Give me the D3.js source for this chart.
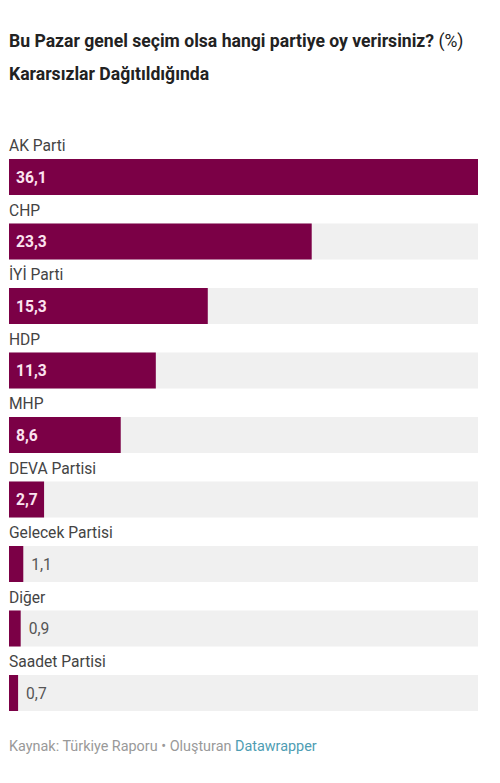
<!DOCTYPE html>
<html><head><meta charset="utf-8">
<script src="https://cdn.jsdelivr.net/npm/d3@7"></script>
<style>
html,body{margin:0;padding:0;background:#fff;}
svg{display:block;font-family:Roboto,"Noto Sans",sans-serif;}
</style></head>
<body>
<svg id="chart" width="500" height="783"></svg>
<script>
const categories = ["AK Parti","CHP","İYİ Parti","HDP","MHP","DEVA Partisi","Gelecek Partisi","Diğer","Saadet Partisi"];
const values = [36.1, 23.3, 15.3, 11.3, 8.6, 2.7, 1.1, 0.9, 0.7];
const valueLabels = ["36,1","23,3","15,3","11,3","8,6","2,7","1,1","0,9","0,7"];
const title = "Bu Pazar genel seçim olsa hangi partiye oy verirsiniz? ";
const titleUnit = "(%)";
const subtitle = "Kararsızlar Dağıtıldığında";

const svg = d3.select("#chart");
const left = 9, right = 478;
const x = d3.scaleLinear().domain([0, d3.max(values)]).range([left, right]);
const rowY = d3.scaleLinear().domain([0, categories.length - 1]).range([159, 675]);
const barH = 36;
const barColor = "#7b0046";

svg.append("text").attr("x", 9).attr("y", 47)
  .attr("font-size", 17.6).attr("font-weight", 700).attr("fill", "#222")
  .text(title)
  .append("tspan").attr("font-weight", 400).text(titleUnit);
svg.append("text").attr("x", 9).attr("y", 80)
  .attr("font-size", 17.6).attr("font-weight", 700).attr("fill", "#222")
  .text(subtitle);

const rows = svg.selectAll("g.row").data(categories).join("g").attr("class", "row");

rows.append("text").attr("x", left).attr("y", (d, i) => rowY(i) - 8)
  .attr("font-size", 15.6).attr("fill", "#444").text(d => d);

rows.append("rect").attr("x", left).attr("y", (d, i) => rowY(i))
  .attr("width", right - left).attr("height", barH).attr("fill", "#f0f0f0");

rows.append("rect").attr("x", left).attr("y", (d, i) => rowY(i))
  .attr("width", (d, i) => x(values[i]) - left).attr("height", barH).attr("fill", barColor);

rows.append("text")
  .attr("x", (d, i) => values[i] > 2 ? left + 7 : x(values[i]) + 8)
  .attr("y", (d, i) => rowY(i) + barH / 2 + 5.5)
  .attr("font-size", 15.6)
  .attr("font-weight", (d, i) => values[i] > 2 ? 700 : 400)
  .attr("fill", (d, i) => values[i] > 2 ? "#fbe3ef" : "#555")
  .text((d, i) => valueLabels[i]);

const foot = svg.append("text").attr("x", 9).attr("y", 751).attr("font-size", 14.4).attr("fill", "#999");
foot.append("tspan").text("Kaynak: Türkiye Raporu • Oluşturan ");
foot.append("tspan").attr("fill", "#4e9db3").text("Datawrapper");
</script>
</body></html>
